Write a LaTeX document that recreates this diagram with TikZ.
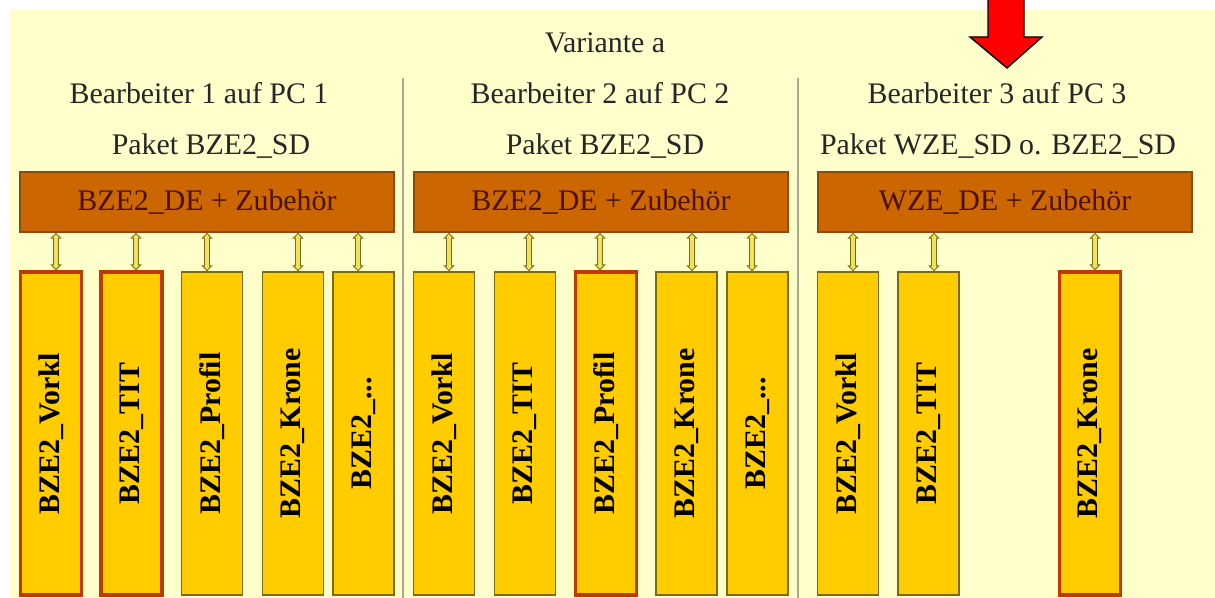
\documentclass[tikz,border=0pt]{standalone}
\usepackage{fontspec}
\setmainfont{Liberation Serif}
\usepackage{graphicx}
\usetikzlibrary{arrows.meta,positioning,calc}
\definecolor{bzebg}{HTML}{FFFFCC}
\definecolor{bzebrown}{HTML}{CC6600}
\definecolor{bzebrownedge}{HTML}{8A4A10}
\definecolor{bzetext}{HTML}{4A1000}
\definecolor{bzeyellow}{HTML}{FFCC00}
\definecolor{bzeolive}{HTML}{7A6A10}
\definecolor{bzered}{HTML}{C03A00}
\definecolor{bzelink}{HTML}{F2E060}
\definecolor{bzeline}{HTML}{A8A890}

\begin{document}
\begin{tikzpicture}[x=0.02cm, y=-0.02cm,
    every node/.style={font=\fontsize{17}{20}\selectfont, text=black!85},
    hdr/.style={anchor=base, inner sep=0pt},
    de/.style={draw=bzebrownedge, fill=bzebrown, line width=0.8pt, minimum width=7.48cm, minimum height=1.2cm, inner sep=0pt, text=bzetext},
    mod/.style={draw=bzeolive, fill=bzeyellow, line width=0.8pt, minimum width=1.22cm, minimum height=6.46cm, inner sep=0pt, font=\fontsize{17}{20}\selectfont\bfseries, text=black},
    modsel/.style={mod, draw=bzered, line width=1.8pt},
    link/.style={draw=bzeolive, line width=0.13cm, {Triangle[width=0.22cm,length=0.12cm]}-{Triangle[width=0.22cm,length=0.12cm]},
      postaction={draw=bzelink, line width=0.07cm, shorten <=0.03cm, shorten >=0.03cm, {Triangle[width=0.13cm,length=0.07cm]}-{Triangle[width=0.13cm,length=0.07cm]}}},
    divider/.style={draw=bzeline, line width=0.9pt}]
      \useasboundingbox (0,0) rectangle (1215,598);
      \fill[bzebg] (10,10) rectangle (1215,598);

      % Dividers
      \draw[divider] (403,78) -- (403,598);
      \draw[divider] (798,78) -- (798,598);

      % Pointer arrow
      \filldraw[fill=red, draw=black, line width=0.8pt] (988,-2) -- (988,37) -- (970,37) -- (1007,68) -- (1042,37) -- (1024,37) -- (1024,-2);

      % Headings
      \node[hdr] (title) at (605,53) {Variante a};
      \node[hdr] (hdr1) at (199,104) {Bearbeiter 1 auf PC 1};
      \node[hdr] (hdr2) at (600,104) {Bearbeiter 2 auf PC 2};
      \node[hdr] (hdr3) at (997,104) {Bearbeiter 3 auf PC 3};
      \node[hdr] (pkg1) at (211,155) {Paket BZE2\_SD};
      \node[hdr] (pkg2) at (605,155) {Paket BZE2\_SD};
      \node[hdr] (pkg3) at (998,155) {Paket WZE\_SD o. BZE2\_SD};

      % Data entry packages
      \node[de] (de1) at (207,202) {BZE2\_DE + Zubehör};
      \node[de] (de2) at (601,202) {BZE2\_DE + Zubehör};
      \node[de] (de3) at (1005,202) {WZE\_DE + Zubehör};

      % Modules PC 1
      \node[modsel] (vorkl1) at (51,433.5) {\rotatebox{90}{BZE2\_Vorkl}};
      \node[modsel] (tit1) at (131.5,433.5) {\rotatebox{90}{BZE2\_TIT}};
      \node[mod] (profil1) at (212,433.5) {\rotatebox{90}{BZE2\_Profil}};
      \node[mod] (krone1) at (293,433.5) {\rotatebox{90}{BZE2\_Krone}};
      \node[mod] (etc1) at (363.5,433.5) {\rotatebox{90}{BZE2\_...}};

      % Modules PC 2
      \node[mod] (vorkl2) at (444,433.5) {\rotatebox{90}{BZE2\_Vorkl}};
      \node[mod] (tit2) at (525,433.5) {\rotatebox{90}{BZE2\_TIT}};
      \node[modsel] (profil2) at (606,433.5) {\rotatebox{90}{BZE2\_Profil}};
      \node[mod] (krone2) at (686.5,433.5) {\rotatebox{90}{BZE2\_Krone}};
      \node[mod] (etc2) at (757.5,433.5) {\rotatebox{90}{BZE2\_...}};

      % Modules PC 3
      \node[mod] (vorkl3) at (848,433.5) {\rotatebox{90}{BZE2\_Vorkl}};
      \node[mod] (tit3) at (928.5,433.5) {\rotatebox{90}{BZE2\_TIT}};
      \node[modsel] (krone3) at (1090,433.5) {\rotatebox{90}{BZE2\_Krone}};

      % Links
      \draw[link] ($(vorkl1.north)+(0.1cm,0)$) -- ($(vorkl1.north |- de1.south)+(0.1cm,0)$);
      \draw[link] ($(tit1.north)+(0.09cm,0)$) -- ($(tit1.north |- de1.south)+(0.09cm,0)$);
      \draw[link] ($(profil1.north)+(-0.1cm,0)$) -- ($(profil1.north |- de1.south)+(-0.1cm,0)$);
      \draw[link] ($(krone1.north)+(0.1cm,0)$) -- ($(krone1.north |- de1.south)+(0.1cm,0)$);
      \draw[link] ($(etc1.north)+(-0.11cm,0)$) -- ($(etc1.north |- de1.south)+(-0.11cm,0)$);

      \draw[link] ($(vorkl2.north)+(0.1cm,0)$) -- ($(vorkl2.north |- de2.south)+(0.1cm,0)$);
      \draw[link] ($(tit2.north)+(0.08cm,0)$) -- ($(tit2.north |- de2.south)+(0.08cm,0)$);
      \draw[link] ($(profil2.north)+(-0.12cm,0)$) -- ($(profil2.north |- de2.south)+(-0.12cm,0)$);
      \draw[link] ($(krone2.north)+(0.11cm,0)$) -- ($(krone2.north |- de2.south)+(0.11cm,0)$);
      \draw[link] ($(etc2.north)+(-0.11cm,0)$) -- ($(etc2.north |- de2.south)+(-0.11cm,0)$);

      \draw[link] ($(vorkl3.north)+(0.1cm,0)$) -- ($(vorkl3.north |- de3.south)+(0.1cm,0)$);
      \draw[link] ($(tit3.north)+(0.11cm,0)$) -- ($(tit3.north |- de3.south)+(0.11cm,0)$);
      \draw[link] ($(krone3.north)+(0.1cm,0)$) -- ($(krone3.north |- de3.south)+(0.1cm,0)$);
    \end{tikzpicture}
\end{document}
